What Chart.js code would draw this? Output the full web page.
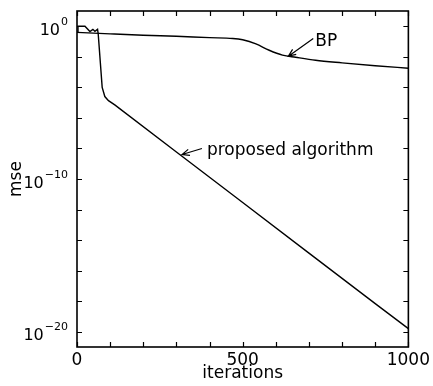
<!DOCTYPE html>
<html><head><meta charset="utf-8">
<script src="https://cdn.jsdelivr.net/npm/chart.js@4"></script>
<style>html,body{margin:0;padding:0;background:#fff;}canvas{display:block;}</style>
</head><body>
<canvas id="c" width="433" height="386"></canvas>
<script>
// ---- data ----
const proposedIter = [0, 3, 24, 39, 48, 54, 62, 64, 76, 84, 95, 114, 300, 500, 700, 900, 1000];
const proposedMse  = [0.40, 1.0, 1.0, 0.45, 0.63, 0.47, 0.63, 0.32, 1e-4, 2.5e-5, 1.35e-5, 7.1e-6, 5.9e-9, 2.9e-12, 1.4e-15, 6.9e-19, 1.6e-20];
const bpIter = [0, 100, 200, 300, 400, 470, 500, 540, 580, 620, 660, 720, 800, 900, 1000];
const bpMse  = [0.40, 0.32, 0.26, 0.22, 0.18, 0.16, 0.13, 0.07, 0.027, 0.013, 0.0093, 0.0059, 0.004, 0.0026, 0.0018];
const xTickValues = [0, 100, 200, 300, 400, 500, 600, 700, 800, 900, 1000];
const xTickLabels = ['0', '', '', '', '', '500', '', '', '', '', '1000'];
const yTickValues = [1e-20, 1e-18, 1e-16, 1e-14, 1e-12, 1e-10, 1e-8, 1e-6, 1e-4, 1e-2, 1];
// labelled y ticks: base "10" with these exponents ('' = unlabelled tick)
const yTickExponents = ['−20', '', '', '', '', '−10', '', '', '', '', '0'];
const seriesNames = ['proposed algorithm', 'BP'];
const xTitle = 'iterations';
const yTitle = 'mse';

// annotation (arrow + label) positions in data coordinates
const notes = [
  { text: 'BP', tip: [638, 0.011], tail: [713, 0.16], at: [719, 0.105] },
  { text: 'proposed algorithm', tip: [317, 4e-9], tail: [377, 1e-8], at: [392, 7.6e-9] }
];

const FONT = '"DejaVu Sans", sans-serif';

const toPts = (xs, ys) => xs.map((x, i) => ({ x: x, y: ys[i] }));

const frameTicks = {
  id: 'frameTicks',
  afterDraw(chart) {
    const { ctx, chartArea: a, scales: { x, y } } = chart;
    ctx.save();
    ctx.strokeStyle = '#000';
    ctx.lineWidth = 1.6;
    ctx.strokeRect(a.left, a.top, a.right - a.left, a.bottom - a.top);
    ctx.lineWidth = 1.2;
    const L = 5;
    ctx.beginPath();
    x.ticks.forEach(t => {
      const p = Math.round(x.getPixelForValue(t.value)) + 0.5;
      ctx.moveTo(p, a.bottom); ctx.lineTo(p, a.bottom - L);
      ctx.moveTo(p, a.top); ctx.lineTo(p, a.top + L);
    });
    y.ticks.forEach(t => {
      const p = Math.round(y.getPixelForValue(t.value)) + 0.5;
      ctx.moveTo(a.left, p); ctx.lineTo(a.left + L, p);
      ctx.moveTo(a.right, p); ctx.lineTo(a.right - L, p);
    });
    ctx.stroke();

    // y tick labels: 10 with superscript exponent
    ctx.fillStyle = '#000';
    ctx.textBaseline = 'alphabetic';
    ctx.textAlign = 'left';
    yTickValues.forEach((v, i) => {
      const e = yTickExponents[i];
      if (!e) return;
      const py = y.getPixelForValue(v);
      ctx.font = '11px ' + FONT;
      const ew = ctx.measureText(e).width;
      ctx.font = '16px ' + FONT;
      const bw = ctx.measureText('10').width;
      const right = a.left - 9;
      const bx = right - ew - bw - 1;
      ctx.fillText('10', bx, py + 8.5);
      ctx.font = '11px ' + FONT;
      ctx.fillText(e, bx + bw + 1, py - 1.5);
    });

    // arrows and labels
    ctx.lineWidth = 1.2;
    ctx.font = '17px ' + FONT;
    ctx.textBaseline = 'middle';
    notes.forEach(n => {
      const tx = x.getPixelForValue(n.tip[0]), ty = y.getPixelForValue(n.tip[1]);
      const sx = x.getPixelForValue(n.tail[0]), sy = y.getPixelForValue(n.tail[1]);
      const ang = Math.atan2(ty - sy, tx - sx);
      const h = 8, spread = 0.4;
      ctx.beginPath();
      ctx.moveTo(sx, sy); ctx.lineTo(tx, ty);
      ctx.moveTo(tx - h * Math.cos(ang - spread), ty - h * Math.sin(ang - spread));
      ctx.lineTo(tx, ty);
      ctx.lineTo(tx - h * Math.cos(ang + spread), ty - h * Math.sin(ang + spread));
      ctx.stroke();
      ctx.fillText(n.text, x.getPixelForValue(n.at[0]), y.getPixelForValue(n.at[1]));
    });
    ctx.restore();
  }
};

new Chart(document.getElementById('c'), {
  type: 'line',
  data: {
    datasets: [
      { label: seriesNames[0], data: toPts(proposedIter, proposedMse), borderColor: '#000', borderWidth: 1.4, pointRadius: 0, tension: 0, fill: false },
      { label: seriesNames[1], data: toPts(bpIter, bpMse), borderColor: '#000', borderWidth: 1.4, pointRadius: 0, cubicInterpolationMode: 'monotone', fill: false }
    ]
  },
  options: {
    responsive: false,
    animation: false,
    devicePixelRatio: 1,
    layout: { padding: { left: 0, top: 11, right: 22, bottom: 0 } },
    plugins: { legend: { display: false }, tooltip: { enabled: false } },
    scales: {
      x: {
        type: 'linear', min: 0, max: 1000,
        afterBuildTicks: s => { s.ticks = xTickValues.map(v => ({ value: v })); },
        afterFit: s => { s.height = 39; },
        grid: { display: false, drawTicks: false },
        border: { display: false },
        ticks: { autoSkip: false, maxRotation: 0, padding: 3, color: '#000', font: { family: FONT, size: 17 },
                 callback: (v, i) => xTickLabels[i] },
        title: { display: true, text: xTitle, color: '#000', font: { family: FONT, size: 17 }, padding: { top: 0, bottom: 2 } }
      },
      y: {
        type: 'logarithmic', min: 1e-21, max: 10,
        afterBuildTicks: s => { s.ticks = yTickValues.map(v => ({ value: v })); },
        afterFit: s => { s.width = 77; },
        grid: { display: false, drawTicks: false },
        border: { display: false },
        ticks: { display: false },
        title: { display: true, text: yTitle, color: '#000', font: { family: FONT, size: 17 }, padding: { top: 6, bottom: 0 } }
      }
    }
  },
  plugins: [frameTicks]
});
</script>
</body></html>
